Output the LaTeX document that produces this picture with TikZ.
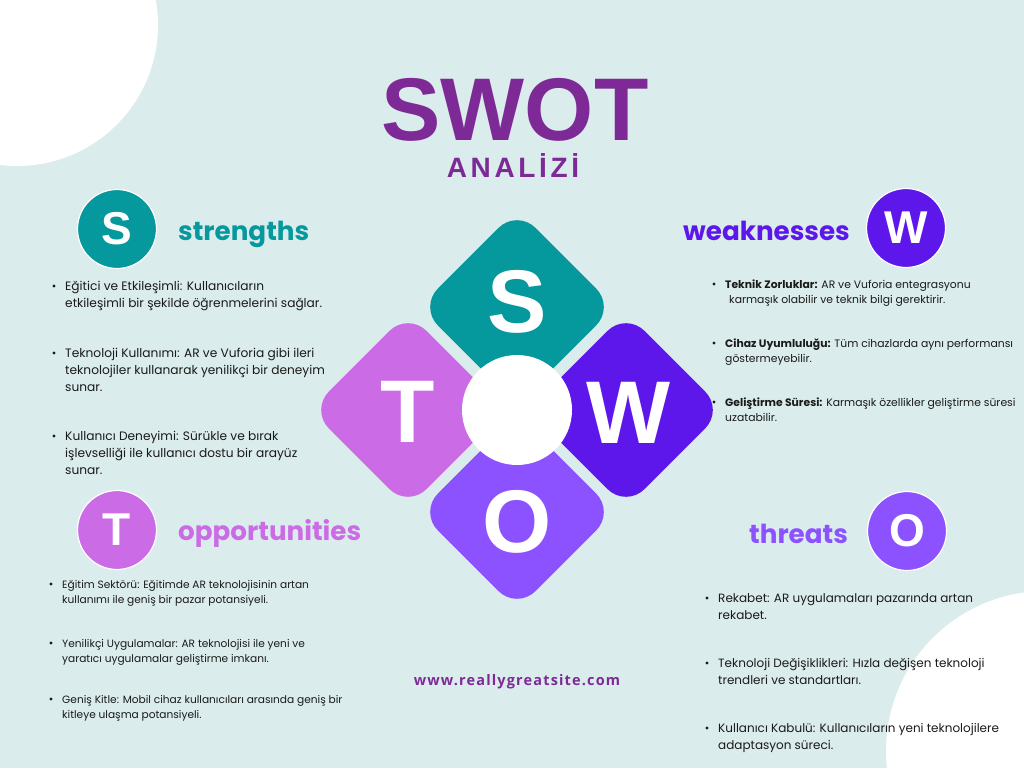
\documentclass[tikz,border=0pt]{standalone}
\usepackage{fontspec}
\setmainfont{Poppins}
\newfontfamily\arialf{Liberation Sans}
\newfontfamily\spacedf{Liberation Sans}[LetterSpace=13]
\newfontfamily\webf{Open Sans}[LetterSpace=8]
\usetikzlibrary{positioning,calc}
\definecolor{bgc}{HTML}{DBECEC}
\definecolor{tealc}{HTML}{05989C}
\definecolor{pinkc}{HTML}{CB6CE6}
\definecolor{violetc}{HTML}{5E17EB}
\definecolor{lilacc}{HTML}{8C52FF}
\definecolor{titlec}{HTML}{7D2A97}
\definecolor{textc}{HTML}{1A1A1A}
\newcommand{\bitem}[4]{%
  \node[#1,anchor=base west] (#2) at (#3) {\begin{tabular}[t]{@{}l@{}}#4\end{tabular}};
  \fill[textc] ($(#2.base west)+(-11,-4)$) circle (1.6);
}

\begin{document}
\begin{tikzpicture}[x=1pt,y=-1pt,
    petal/.style={rectangle,minimum size=138pt,rounded corners=26pt,rotate=45,inner sep=0pt},
    bigletter/.style={font=\arialf\bfseries\fontsize{89}{89}\selectfont,text=white,inner sep=0pt},
    badge/.style={circle,minimum size=79pt,draw=white,line width=1.2pt,inner sep=0pt,
      text=white,font=\arialf\bfseries\fontsize{46}{46}\selectfont},
    headtxt/.style={font=\bfseries\fontsize{26.2}{26.2}\selectfont,anchor=base west,inner sep=0pt},
    itemS/.style={font=\fontsize{12.2}{17}\selectfont,text=textc,inner sep=0pt},
    itemT/.style={font=\fontsize{10.6}{15}\selectfont,text=textc,inner sep=0pt},
    itemW/.style={font=\fontsize{10.8}{15}\selectfont,text=textc,inner sep=0pt},
    itemO/.style={font=\fontsize{12}{17}\selectfont,text=textc,inner sep=0pt}]
  \useasboundingbox (0,0) rectangle (1024,768);
  \fill[bgc] (0,0) rectangle (1024,768);
  \fill[white] (17,25) circle (141);
  \fill[white] (1046,751) circle (160);

  % title
  \node[font=\arialf\bfseries\fontsize{89}{89}\selectfont,text=titlec,inner sep=0pt] (title) at (515,110) {SWOT};
  \node[font=\spacedf\bfseries\fontsize{28}{28}\selectfont,text=titlec,inner sep=0pt] (sub) at (513,166) {ANALİZİ};

  % centre flower
  \node[petal,fill=tealc] (ps) at (517,307) {};
  \node[petal,fill=violetc] (pw) at (626,410) {};
  \node[petal,fill=pinkc] (pt) at (408,410) {};
  \node[petal,fill=lilacc] (po) at (517,512) {};
  \node[circle,fill=white,minimum size=110pt,inner sep=0pt] (hub) at (517,410) {};
  \node[bigletter] (ls) at (517,302) {S};
  \node[bigletter] (lw) at (628,413) {W};
  \node[bigletter] (lt) at (408,412) {T};
  \node[bigletter] (lo) at (517,522) {O};

  % headings
  \node[badge,fill=tealc] (bs) at (117,229) {S};
  \node[headtxt,text=tealc] (hs) at (178,240) {strengths};
  \node[badge,fill=pinkc] (bt) at (117,530) {T};
  \node[headtxt,text=pinkc] (ht) at (178,540) {opportunities};
  \node[badge,fill=violetc] (bw) at (906,228) {W};
  \node[headtxt,text=violetc] (hw) at (683,240) {weaknesses};
  \node[badge,fill=lilacc] (bo) at (907,531) {O};
  \node[headtxt,text=lilacc] (ho) at (749,543) {threats};

  % strengths
  \bitem{itemS}{s1}{65,290}{Eğitici ve Etkileşimli: Kullanıcıların\\etkileşimli bir şekilde öğrenmelerini sağlar.}
  \bitem{itemS}{s2}{65,357}{Teknoloji Kullanımı: AR ve Vuforia gibi ileri\\teknolojiler kullanarak yenilikçi bir deneyim\\sunar.}
  \bitem{itemS}{s3}{65,440}{Kullanıcı Deneyimi: Sürükle ve bırak\\işlevselliği ile kullanıcı dostu bir arayüz\\sunar.}

  % opportunities
  \bitem{itemT}{t1}{62,588}{Eğitim Sektörü: Eğitimde AR teknolojisinin artan\\kullanımı ile geniş bir pazar potansiyeli.}
  \bitem{itemT}{t2}{62,647}{Yenilikçi Uygulamalar: AR teknolojisi ile yeni ve\\yaratıcı uygulamalar geliştirme imkanı.}
  \bitem{itemT}{t3}{62,703}{Geniş Kitle: Mobil cihaz kullanıcıları arasında geniş bir\\kitleye ulaşma potansiyeli.}

  % weaknesses
  \bitem{itemW}{w1}{725,288}{\textbf{Teknik Zorluklar:} AR ve Vuforia entegrasyonu\\\hspace*{4pt}karmaşık olabilir ve teknik bilgi gerektirir.}
  \bitem{itemW}{w2}{725,347}{\textbf{Cihaz Uyumluluğu:} Tüm cihazlarda aynı performansı\\göstermeyebilir.}
  \bitem{itemW}{w3}{725,406}{\textbf{Geliştirme Süresi:} Karmaşık özellikler geliştirme süresi\\uzatabilir.}

  % threats
  \bitem{itemO}{o1}{718,602}{Rekabet: AR uygulamaları pazarında artan\\rekabet.}
  \bitem{itemO}{o2}{718,667}{Teknoloji Değişiklikleri: Hızla değişen teknoloji\\trendleri ve standartları.}
  \bitem{itemO}{o3}{718,732}{Kullanıcı Kabulü: Kullanıcıların yeni teknolojilere\\adaptasyon süreci.}

  \node[font=\webf\bfseries\fontsize{14.5}{14.5}\selectfont,text=titlec] (web) at (517,682) {www.reallygreatsite.com};
\end{tikzpicture}
\end{document}
